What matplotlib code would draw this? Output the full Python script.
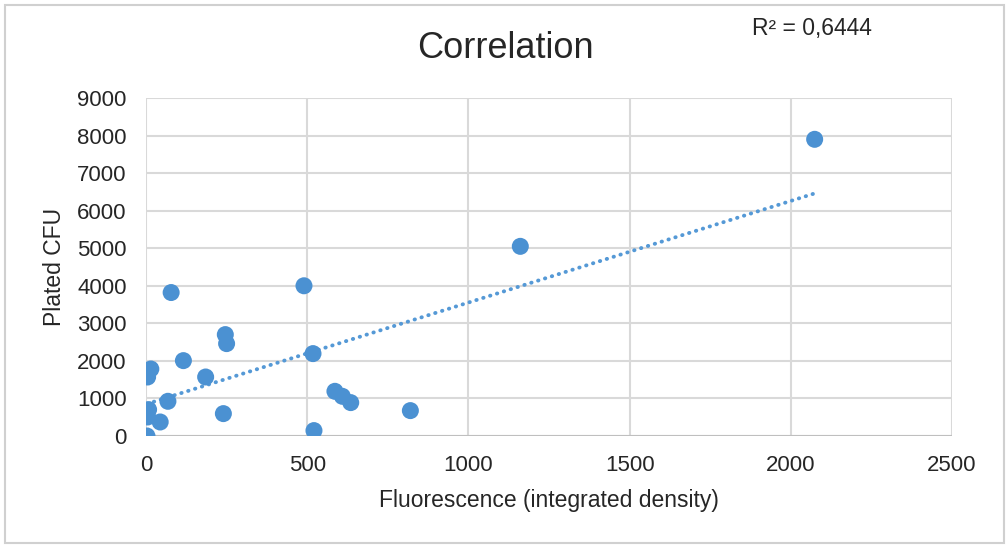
import numpy as np
import matplotlib.pyplot as plt
from matplotlib.patches import Rectangle

# --- Data ---
fluorescence = [78, 490, 246, 250, 116, 15, 5, 185, 518, 68, 8, 5, 44, 240, 3,
                586, 609, 635, 521, 820, 1161, 2074]
plated_cfu = [3820, 4000, 2700, 2460, 2007, 1784, 1571, 1571, 2194, 924, 703, 506,
              373, 596, 0, 1190, 1057, 889, 144, 676, 5050, 7900]
r2_text = 'R² = 0,6444'

x_ticks = [0, 500, 1000, 1500, 2000, 2500]
y_ticks = [0, 1000, 2000, 3000, 4000, 5000, 6000, 7000, 8000, 9000]

plt.rcParams['font.family'] = ['Liberation Sans', 'DejaVu Sans']
blue = '#4b91d2'
grid = '#d9d9d9'

fig = plt.figure(figsize=(10.06, 5.45), dpi=100)
ax = fig.add_axes([146 / 1006, 1 - 436 / 545, (952 - 146) / 1006, (436 - 98) / 545])

# --- Linear trendline (dotted, Excel style) ---
slope, intercept = np.polyfit(fluorescence, plated_cfu, 1)
xs = np.array([min(fluorescence), max(fluorescence)])
ax.plot(xs, slope * xs + intercept, color='#5599d6', lw=2.8, linestyle=(0, (0.1, 1.75)),
        dash_capstyle='round', zorder=2)

ax.scatter(fluorescence, plated_cfu, s=150, color=blue, edgecolors='none', zorder=3)

ax.set_xlim(0, 2500)
ax.set_ylim(0, 9000)
ax.set_xticks(x_ticks)
ax.set_yticks(y_ticks)
ax.tick_params(length=0, labelsize=16, pad=14, colors='#262626')
ax.grid(True, color=grid, lw=1.5)
ax.set_axisbelow(True)
for s in ax.spines.values():
    s.set_visible(False)
ax.axhline(0, color='#bfbfbf', lw=1.5, zorder=1)

ax.set_xlabel('Fluorescence (integrated density)', fontsize=16.5, color='#262626', labelpad=9)
ax.set_ylabel('Plated CFU', fontsize=16.5, color='#262626', labelpad=8)

fig.text(505 / 1006, 1 - 48 / 545, 'Correlation', fontsize=26, ha='center', va='center',
         color='#262626')
fig.text(812 / 1006, 1 - 28 / 545, r2_text, fontsize=16.5, ha='center', va='center',
         color='#262626')

# chart border
fig.patches.append(Rectangle((5 / 1006, 2 / 545), 999 / 1006, 538 / 545, fill=False,
                             edgecolor='#d0d0d0', lw=1.5, transform=fig.transFigure))

fig.savefig('out.png', dpi=100)
